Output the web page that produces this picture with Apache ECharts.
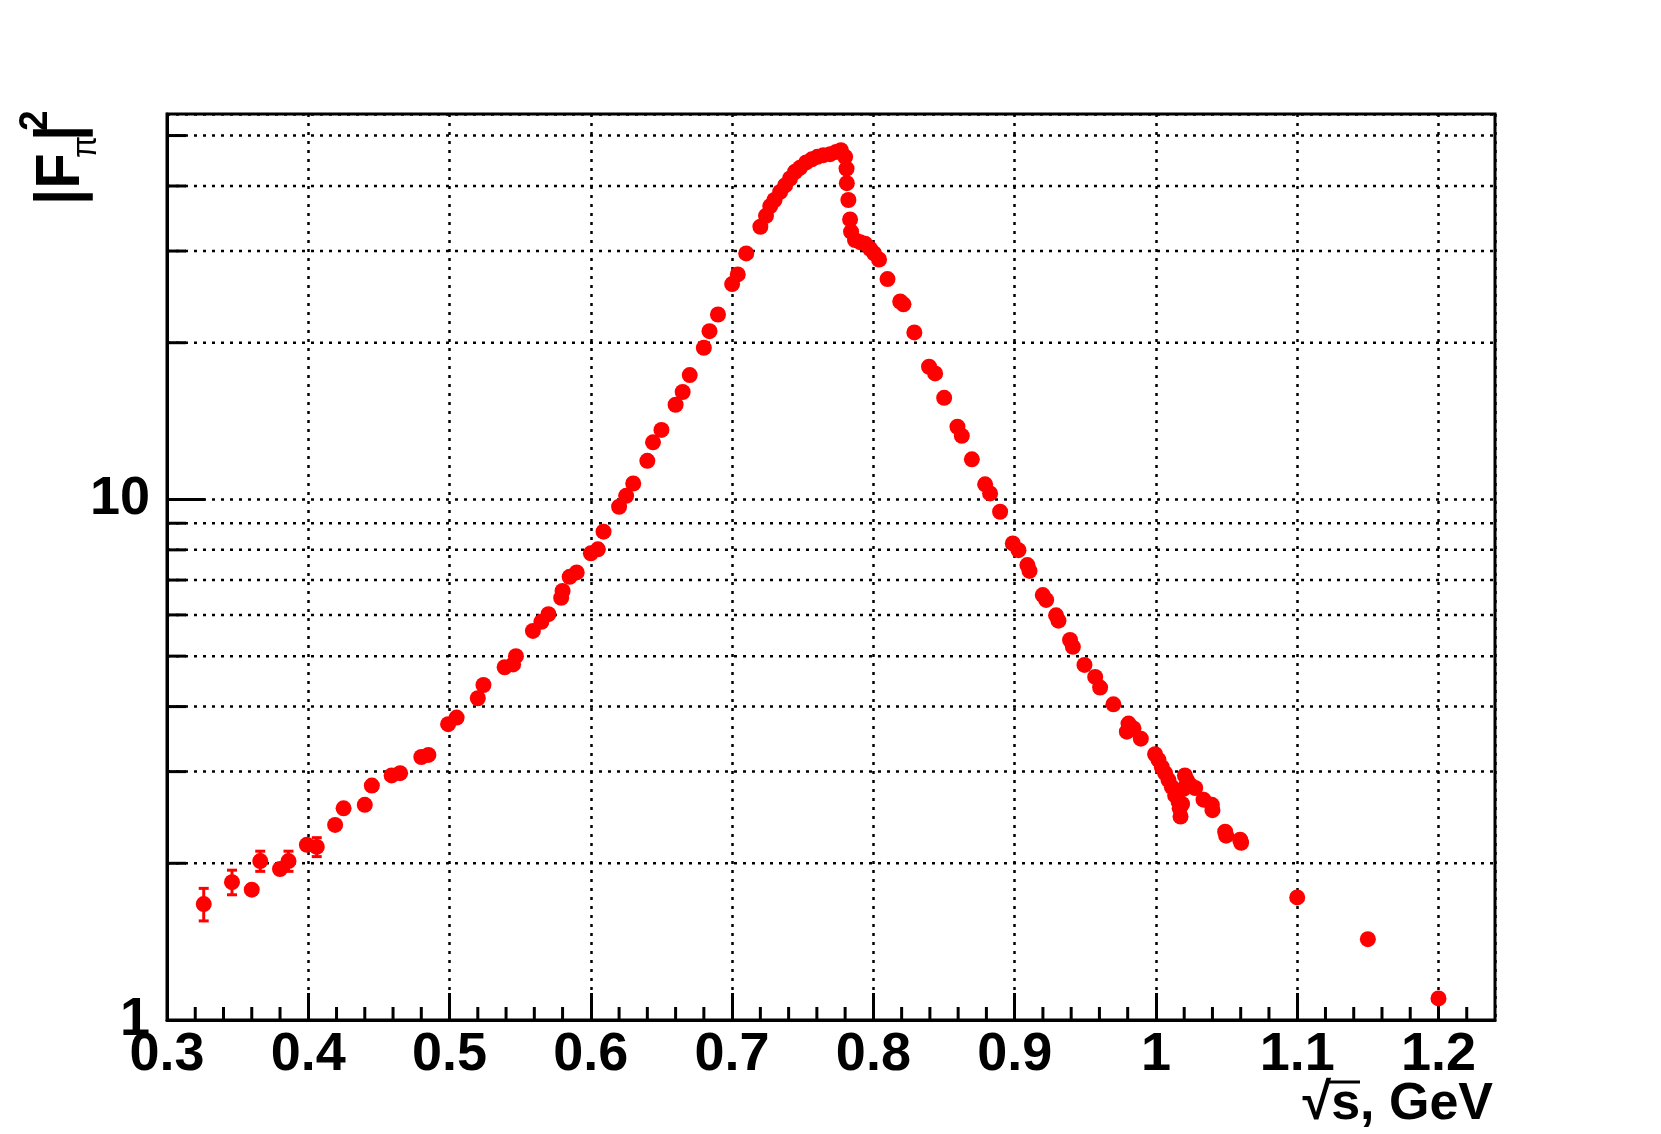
<!DOCTYPE html>
<html>
<head>
<meta charset="utf-8">
<script src="https://cdn.jsdelivr.net/npm/echarts@6/dist/echarts.min.js"></script>
<style>
  html, body { margin: 0; padding: 0; background: #fff; }
  #chart { width: 1661px; height: 1134px; }
</style>
</head>
<body>
<div id="chart"></div>
<script>
// sqrt(s) in GeV
const sqrtS = [
  0.326, 0.346, 0.360, 0.366, 0.380, 0.386, 0.399, 0.406, 0.419, 0.425,
  0.440, 0.445, 0.459, 0.465, 0.480, 0.485, 0.499, 0.505, 0.520, 0.524,
  0.539, 0.545, 0.547, 0.559, 0.565, 0.570, 0.579, 0.580, 0.585, 0.590,
  0.600, 0.605, 0.609, 0.620, 0.625, 0.630, 0.640, 0.644, 0.650, 0.660,
  0.665, 0.670, 0.680, 0.684, 0.690, 0.700, 0.704, 0.710, 0.720, 0.724,
  0.727, 0.730, 0.734, 0.7375, 0.741, 0.7446, 0.748, 0.7524, 0.7564, 0.7604,
  0.7646, 0.7694, 0.7736, 0.777, 0.780, 0.781, 0.7812, 0.7823, 0.7835, 0.7842,
  0.787, 0.7906, 0.7941, 0.7977, 0.8005, 0.804, 0.810, 0.819, 0.8213, 0.829,
  0.8394, 0.8437, 0.8501, 0.8595, 0.8626, 0.8697, 0.8791, 0.8826, 0.8897, 0.8987,
  0.9027, 0.909, 0.9105, 0.9199, 0.9223, 0.9293, 0.931, 0.9392, 0.9412, 0.9494,
  0.957, 0.9605, 0.9699, 0.9794, 0.9806, 0.9841, 0.9893, 0.9994, 1.0018, 1.0042,
  1.0065, 1.0089, 1.0113, 1.0136, 1.016, 1.0168, 1.0174, 1.0185, 1.0195, 1.0205,
  1.0219, 1.0242, 1.0278, 1.0337, 1.0396, 1.0400, 1.049, 1.0497, 1.0596, 1.0603,
  1.100, 1.150, 1.200
];

// |F_pi|^2
const formFactor = [
  1.67, 1.84, 1.78, 2.02, 1.95, 2.02, 2.17, 2.15, 2.37, 2.55,
  2.59, 2.82, 2.95, 2.98, 3.20, 3.23, 3.70, 3.81, 4.15, 4.40,
  4.76, 4.82, 5.00, 5.59, 5.82, 6.02, 6.47, 6.67, 7.10, 7.24,
  7.88, 8.02, 8.67, 9.68, 10.16, 10.73, 11.86, 12.87, 13.60, 15.20,
  16.08, 17.33, 19.55, 21.05, 22.66, 25.92, 27.05, 29.68, 33.40, 35.05,
  36.60, 37.60, 38.97, 40.10, 41.35, 42.60, 43.35, 44.40, 45.00, 45.50,
  45.85, 46.05, 46.50, 46.86, 45.50, 43.20, 40.50, 37.60, 34.50, 32.70,
  31.50, 31.20, 31.00, 30.30, 29.70, 28.90, 26.50, 24.00, 23.70, 20.93,
  17.98, 17.46, 15.67, 13.79, 13.25, 11.94, 10.69, 10.27, 9.47, 8.23,
  7.99, 7.48, 7.29, 6.55, 6.41, 5.99, 5.85, 5.37, 5.21, 4.81,
  4.56, 4.35, 4.04, 3.58, 3.71, 3.63, 3.47, 3.24, 3.16, 3.06,
  2.98, 2.89, 2.80, 2.70, 2.63, 2.55, 2.46, 2.60, 2.78, 2.95,
  2.89, 2.83, 2.79, 2.65, 2.59, 2.53, 2.30, 2.26, 2.22, 2.19,
  1.72, 1.43, 1.10
];

// errors of the low-energy points; the rest are hidden by the markers
const formFactorErr = [0.12, 0.10, 0.04, 0.09, 0.04, 0.09, 0.05, 0.09, 0.05, 0.08, 0.04, 0.05, 0.05, 0.08];

// log axis minor ticks / grid lines
const yMinorTicks = [2, 3, 4, 5, 6, 7, 8, 9, 20, 30, 40, 50];

const X_MIN = 0.3;
const X_MAX = 1.24;
const Y_MIN = 1;
const Y_MAX = 55;

const xMinorTicks = [];
for (let k = 1; k < 47; k++) {
  if (k % 5 !== 0) xMinorTicks.push(+(X_MIN + k * 0.02).toFixed(2));
}

const FONT = 'Liberation Sans, Arial, Helvetica, sans-serif';
const RED = '#ff0000';
const DOT = [3, 6];

const chart = echarts.init(document.getElementById('chart'));

const points = sqrtS.map((x, i) => [x, formFactor[i]]);
const errData = sqrtS.map((x, i) => [x, formFactor[i], formFactorErr[i] || 0]);

// rotated y title piece: anchor is the lower end of the piece, cx its centre line
function yTitlePiece(text, cx, yStart, size, weight) {
  return {
    type: 'text',
    x: cx,
    y: yStart,
    rotation: Math.PI / 2,
    scaleY: 1.1,
    style: {
      text: text,
      align: 'left',
      verticalAlign: 'middle',
      fill: '#000',
      font: weight + ' ' + size + 'px ' + FONT,
    },
  };
}

const option = {
  animation: false,
  backgroundColor: '#fff',
  grid: {
    left: 167,
    right: 166,
    top: 114,
    bottom: 114,
    show: true,
    borderColor: '#000',
    borderWidth: 3,
    backgroundColor: 'transparent',
    containLabel: false,
    outerBoundsMode: 'none',
  },
  xAxis: {
    type: 'value',
    min: X_MIN,
    max: X_MAX,
    interval: 0.1,
    axisLine: { show: true, onZero: false, lineStyle: { color: '#000', width: 3 } },
    axisTick: { show: true, inside: true, length: 27, lineStyle: { color: '#000', width: 3 } },
    axisLabel: {
      show: true,
      showMinLabel: true,
      showMaxLabel: false,
      margin: 8,
      color: '#000',
      fontFamily: FONT,
      fontWeight: 'bold',
      fontSize: 54,
    },
    splitLine: { show: true, lineStyle: { color: '#000', width: 2.5, type: DOT } },
  },
  yAxis: {
    type: 'log',
    logBase: 10,
    min: Y_MIN,
    max: Y_MAX,
    axisLine: { show: true, onZero: false, lineStyle: { color: '#000', width: 3 } },
    axisTick: { show: true, inside: true, length: 38, lineStyle: { color: '#000', width: 3 } },
    axisLabel: {
      show: true,
      showMinLabel: true,
      showMaxLabel: false,
      margin: 17,
      color: '#000',
      fontFamily: FONT,
      fontWeight: 'bold',
      fontSize: 54,
    },
    splitLine: { show: true, lineStyle: { color: '#000', width: 2.5, type: DOT } },
  },
  graphic: [
    yTitlePiece('|F', 61, 205, 58, 'bold'),
    yTitlePiece('π', 86, 158, 32, 'normal'),
    yTitlePiece('|', 61, 141, 58, 'bold'),
    yTitlePiece('2', 36, 131, 37, 'bold'),
    {
      type: 'text',
      x: 1493,
      y: 1105,
      style: {
        text: '√s, GeV',
        align: 'right',
        verticalAlign: 'middle',
        fill: '#000',
        font: 'bold 52px ' + FONT,
      },
    },
    {
      // bar of the square root
      type: 'line',
      shape: { x1: 1328, y1: 1082, x2: 1360, y2: 1082 },
      style: { stroke: '#000', lineWidth: 3 },
    },
  ],
  series: [
    {
      // minor grid lines and ticks of the log axis
      type: 'custom',
      z: 1,
      silent: true,
      data: yMinorTicks.map(v => [X_MIN, v]),
      renderItem: (params, api) => {
        const cs = params.coordSys;
        const p = api.coord([X_MIN, api.value(1)]);
        return {
          type: 'group',
          children: [
            {
              type: 'line',
              shape: { x1: cs.x, y1: p[1], x2: cs.x + cs.width, y2: p[1] },
              style: { stroke: '#000', lineWidth: 2.5, lineDash: DOT },
            },
            {
              type: 'line',
              shape: { x1: cs.x, y1: p[1], x2: cs.x + 19, y2: p[1] },
              style: { stroke: '#000', lineWidth: 3 },
            },
          ],
        };
      },
    },
    {
      // minor ticks of the x axis
      type: 'custom',
      z: 1,
      silent: true,
      data: xMinorTicks.map(v => [v, Y_MIN]),
      renderItem: (params, api) => {
        const p = api.coord([api.value(0), Y_MIN]);
        return {
          type: 'line',
          shape: { x1: p[0], y1: p[1], x2: p[0], y2: p[1] - 13 },
          style: { stroke: '#000', lineWidth: 3 },
        };
      },
    },
    {
      // error bars
      type: 'custom',
      z: 2,
      silent: true,
      data: errData,
      renderItem: (params, api) => {
        const x = api.value(0);
        const y = api.value(1);
        const e = api.value(2);
        if (!e) return null;
        const top = api.coord([x, y + e]);
        const bot = api.coord([x, y - e]);
        if ((bot[1] - top[1]) / 2 <= 8) return null;
        const st = { stroke: RED, lineWidth: 3 };
        return {
          type: 'group',
          children: [
            { type: 'line', shape: { x1: top[0], y1: top[1], x2: bot[0], y2: bot[1] }, style: st },
            { type: 'line', shape: { x1: top[0] - 5, y1: top[1], x2: top[0] + 5, y2: top[1] }, style: st },
            { type: 'line', shape: { x1: bot[0] - 5, y1: bot[1], x2: bot[0] + 5, y2: bot[1] }, style: st },
          ],
        };
      },
    },
    {
      type: 'scatter',
      z: 3,
      symbol: 'circle',
      symbolSize: 16,
      itemStyle: { color: RED, opacity: 1 },
      data: points,
    },
  ],
};

chart.setOption(option);
</script>
</body>
</html>
